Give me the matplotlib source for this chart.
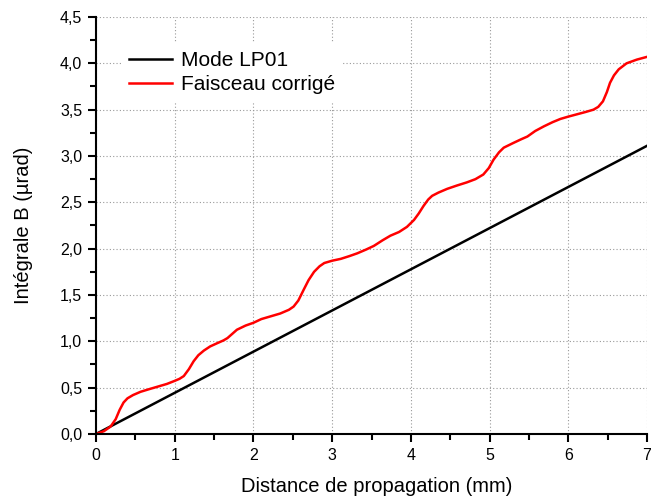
import matplotlib
matplotlib.use('Agg')
import matplotlib.pyplot as plt
from matplotlib.ticker import MultipleLocator, FuncFormatter

plt.rcParams['font.family'] = ['Liberation Sans', 'DejaVu Sans']

# Mode LP01 : straight line
x_lp = [0.0, 7.0]
y_lp = [0.0, 3.11]

# Faisceau corrige
x_fc = [0.0, 0.1, 0.185, 0.25, 0.3, 0.35, 0.4, 0.47, 0.565, 0.68, 0.78, 0.9,
        0.99, 1.06, 1.115, 1.18, 1.24, 1.3, 1.37, 1.45, 1.54, 1.62, 1.67, 1.73,
        1.79, 1.9, 2.0, 2.1, 2.22, 2.34, 2.45, 2.51, 2.57, 2.64, 2.7, 2.77,
        2.84, 2.9, 3.0, 3.11, 3.22, 3.32, 3.43, 3.53, 3.64, 3.74, 3.85, 3.95,
        4.04, 4.1, 4.16, 4.22, 4.27, 4.35, 4.46, 4.58, 4.71, 4.82, 4.92, 4.99,
        5.05, 5.12, 5.18, 5.3, 5.4, 5.48, 5.58, 5.69, 5.8, 5.9, 6.0, 6.11,
        6.22, 6.32, 6.38, 6.44, 6.49, 6.53, 6.58, 6.64, 6.74, 6.87, 7.0]
y_fc = [0.0, 0.03, 0.08, 0.16, 0.26, 0.34, 0.385, 0.42, 0.455, 0.485, 0.51, 0.54,
        0.57, 0.595, 0.625, 0.7, 0.785, 0.85, 0.9, 0.945, 0.98, 1.01, 1.035, 1.08,
        1.125, 1.17, 1.2, 1.24, 1.27, 1.30, 1.34, 1.375, 1.44, 1.56, 1.66, 1.75,
        1.81, 1.845, 1.87, 1.89, 1.92, 1.95, 1.99, 2.03, 2.09, 2.14, 2.18, 2.235,
        2.31, 2.38, 2.46, 2.53, 2.57, 2.605, 2.645, 2.68, 2.715, 2.75, 2.80, 2.87,
        2.96, 3.04, 3.09, 3.14, 3.18, 3.21, 3.27, 3.32, 3.365, 3.40, 3.425, 3.45,
        3.475, 3.50, 3.53, 3.59, 3.69, 3.79, 3.87, 3.935, 4.0, 4.04, 4.07]

fig = plt.figure(figsize=(6.51, 4.97), dpi=100)
ax = fig.add_axes([0.1475, 0.1268, 0.8464, 0.839])

ax.plot(x_lp, y_lp, color='black', lw=1.8, label='Mode LP01')
ax.plot(x_fc, y_fc, color='red', lw=1.8, label='Faisceau corrigé')

ax.set_xlim(0, 7)
ax.set_ylim(0, 4.5)
ax.xaxis.set_major_locator(MultipleLocator(1))
ax.xaxis.set_minor_locator(MultipleLocator(0.5))
ax.yaxis.set_major_locator(MultipleLocator(0.5))
ax.yaxis.set_minor_locator(MultipleLocator(0.25))
ax.yaxis.set_major_formatter(FuncFormatter(lambda v, p: ('%.1f' % v).replace('.', ',')))

ax.grid(True, which='major', color='#999999', linestyle=(0, (1, 2)), lw=0.8)
ax.set_axisbelow(True)

for s in ['top', 'right']:
    ax.spines[s].set_visible(False)
for s in ['left', 'bottom']:
    ax.spines[s].set_linewidth(1.5)

ax.tick_params(which='major', direction='out', length=6, width=1.5, labelsize=11.5, pad=4)
ax.tick_params(which='minor', direction='out', length=4, width=1.5)

ax.set_xlabel('Distance de propagation (mm)', fontsize=14.5)
ax.xaxis.set_label_coords(0.51, -0.104)
ax.set_ylabel('Intégrale B (µrad)', fontsize=14.5)
ax.yaxis.set_label_coords(-0.114, 0.5)

leg = ax.legend(loc='upper left', bbox_to_anchor=(0.045, 0.938), fontsize=15,
                frameon=True, handlelength=2.07, handletextpad=0.42,
                labelspacing=0.25, borderaxespad=0.0)
leg.get_frame().set_edgecolor('none')
leg.get_frame().set_facecolor('white')
leg.get_frame().set_alpha(1.0)

fig.savefig('out.png', dpi=100)
